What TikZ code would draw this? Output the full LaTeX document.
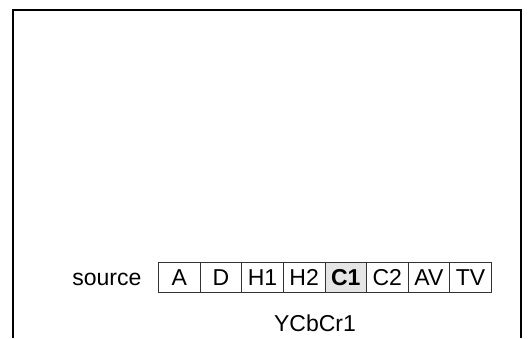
\documentclass[tikz,border=0pt]{standalone}
\usepackage{fontspec}
\setmainfont{Liberation Sans}
\usetikzlibrary{positioning}

\begin{document}
\begin{tikzpicture}[x=1pt,y=1pt,
    cell/.style={draw=black!80,line width=0.8pt,rectangle,minimum width=41.6pt,minimum height=30pt,inner sep=0pt,outer sep=0pt,text height=16pt,text depth=0pt,font=\fontsize{23}{27}\selectfont},
    active/.style={cell,fill=black!10,font=\fontsize{23}{27}\selectfont\bfseries},
    txt/.style={font=\fontsize{23}{27}\selectfont}
    ]
  \useasboundingbox (0,0) rectangle (532,338);

  % screen frame, open at the bottom
  \draw[line width=2.8pt] (13,0) |- (521,328) -- (521,0);

  \node(srcA) [cell] at (179.3,61) {A};
  \node(srcD) [cell,right=0pt of srcA] {D};
  \node(srcH1) [cell,right=0pt of srcD] {H1};
  \node(srcH2) [cell,right=0pt of srcH1] {H2};
  \node(srcC1) [active,right=0pt of srcH2] {C1};
  \node(srcC2) [cell,right=0pt of srcC1] {C2};
  \node(srcAV) [cell,right=0pt of srcC2] {AV};
  \node(srcTV) [cell,right=0pt of srcAV] {TV};

  \node(srcName) [txt,anchor=base east,inner sep=0pt] at ([xshift=-17pt]srcA.base west) {source};
  \node(mode) [txt,anchor=base,inner sep=0pt] at (315,6.5) {YCbCr1};

\end{tikzpicture}
\end{document}
